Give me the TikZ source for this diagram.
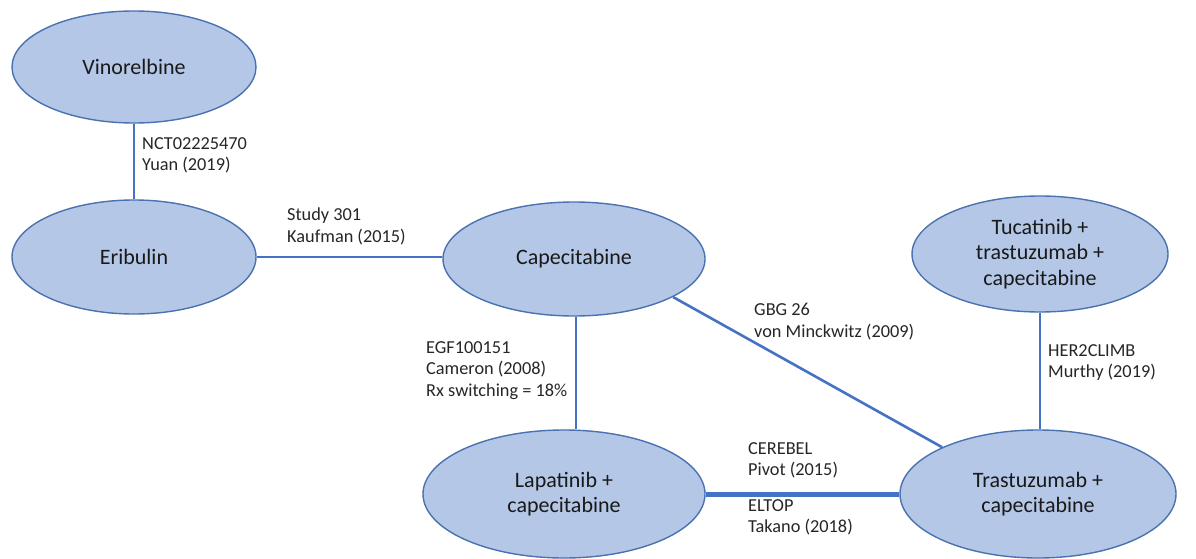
\documentclass[tikz,border=0pt]{standalone}
\usepackage{fontspec}
\setmainfont{Carlito}
\usetikzlibrary{shapes.geometric}
\definecolor{nodefill}{HTML}{B4C7E7}
\definecolor{nodeedge}{HTML}{4A72B0}
\definecolor{linkcol}{HTML}{4472C4}
\definecolor{txtcol}{HTML}{262626}
\tikzset{
  drug/.style={ellipse, draw=nodeedge, fill=nodefill, line width=1.4pt, inner sep=0pt,
    align=center, font=\fontsize{22}{25.5}\selectfont, text=black!90},
  link/.style={draw=linkcol, line width=2.6pt},
  thicklink/.style={draw=linkcol, line width=5pt},
  lab/.style={anchor=north west, align=left, inner sep=0pt,
    font=\fontsize{18.3}{21.8}\selectfont, text=txtcol}
}
\begin{document}
\begin{tikzpicture}[x=1pt,y=1pt]
\useasboundingbox (0,0) rectangle (1196,558);
\node[drug, minimum width=244pt, minimum height=112pt] (vin) at (134,491) {Vinorelbine};
\node[drug, minimum width=244pt, minimum height=114pt] (eri) at (134,301) {Eribulin};
\node[drug, minimum width=262pt, minimum height=114pt] (cap) at (574,299) {Capecitabine};
\node[drug, minimum width=256pt, minimum height=116pt] (tuc) at (1040,304) {Tucatinib +\\trastuzumab +\\capecitabine};
\node[drug, minimum width=282pt, minimum height=128pt] (lap) at (564,64) {Lapatinib +\\capecitabine};
\node[drug, minimum width=276pt, minimum height=128pt] (tra) at (1038,64) {Trastuzumab +\\capecitabine};

\draw[link] (vin.south) -- (eri.north);
\draw[link] (eri.east) -- (eri.east -| cap.west);
\draw[link] ([xshift=2pt]cap.south) -- ([xshift=2pt]cap.south |- lap.north);
\draw[link] (cap.-21.5) -- (tra.154.9);
\draw[link] (tuc.south) -- (tuc.south |- tra.north);
\draw[thicklink] (lap.east) -- (tra.west);

\node[lab] (l1) at (142,421) {NCT02225470\\Yuan (2019)};
\node[lab] (l2) at (287,350) {Study 301\\Kaufman (2015)};
\node[lab] (l3) at (426,217) {EGF100151\\Cameron (2008)\\Rx switching = 18\%};
\node[lab] (l4) at (754,255) {GBG 26\\von Minckwitz (2009)};
\node[lab] (l5) at (1048,214) {HER2CLIMB\\Murthy (2019)};
\node[lab] (l6) at (748,116) {CEREBEL\\Pivot (2015)};
\node[lab] (l7) at (748,59) {ELTOP\\Takano (2018)};
\end{tikzpicture}
\end{document}
